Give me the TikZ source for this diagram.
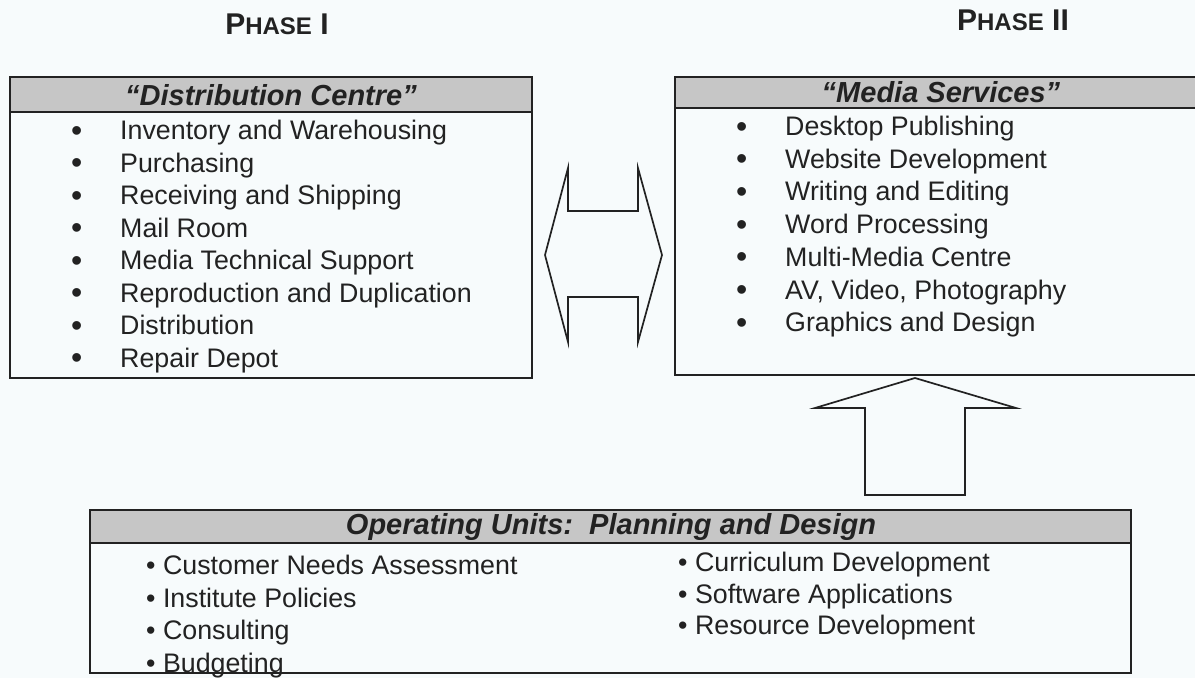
\documentclass[tikz,border=0pt]{standalone}
\usepackage{fontspec}
\setmainfont{Liberation Sans}
\usepackage{tikz}

\definecolor{paper}{RGB}{247,251,252}
\definecolor{ink}{RGB}{34,34,34}
\definecolor{halftone}{RGB}{198,198,198}
\newcommand{\lowcaps}[1]{{\fontsize{24}{26}\selectfont #1}}
\newcommand{\bigdot}{\raisebox{-1.5pt}{\fontsize{32}{32}\selectfont\textbullet}}

\begin{document}
\begin{tikzpicture}[x=1pt,y=-1pt]
        \tikzset{
            phase/.style = {font=\bfseries\fontsize{30}{32}\selectfont, text=ink, inner sep=0pt},
            box/.style = {draw=ink, line width=1.3pt},
            strip/.style = {draw=ink, line width=1.3pt, fill=halftone},
            head/.style = {font=\bfseries\itshape\fontsize{29}{32}\selectfont, text=ink, inner sep=0pt},
            item/.style = {anchor=base west, font=\fontsize{26.8}{30}\selectfont, text=ink, inner sep=0pt},
            blockarrow/.style = {draw=ink, line width=1.7pt, line join=miter}
        }
        \fill[paper] (0,0) rectangle (1195,678);
        \useasboundingbox (0,0) rectangle (1195,678);

        % phase titles
        \node[phase] (ph1) at (277,24) {P\lowcaps{HASE} I};
        \node[phase] (ph2) at (1013,20) {P\lowcaps{HASE} II};

        % distribution centre
        \draw[box] (10,77) rectangle (532,378);
        \draw[strip] (10,77) rectangle (532,112);
        \node[head] (dchead) at (271,95) {“Distribution Centre”};
        \foreach \txt [count=\i] in {Inventory and Warehousing, Purchasing,
                Receiving and Shipping, Mail Room, Media Technical Support,
                Reproduction and Duplication, Distribution, Repair Depot}
            \node[item] (dc\i) at (71,{139.5+32.5*(\i-1)}) {\makebox[49pt][l]{\bigdot}\txt};

        % media services
        \draw[box] (675,77) rectangle (1208,375);
        \draw[strip] (675,77) rectangle (1208,108);
        \node[head] (mshead) at (941,92) {“Media Services”};
        \foreach \txt [count=\i] in {Desktop Publishing, Website Development,
                Writing and Editing, Word Processing, Multi-Media Centre,
                {AV, Video, Photography}, Graphics and Design}
            \node[item] (ms\i) at (736,{135.5+32.7*(\i-1)}) {\makebox[49pt][l]{\bigdot}\txt};

        % operating units
        \draw[box] (90,510) rectangle (1131,673);
        \draw[strip] (90,510) rectangle (1131,543);
        \node[head] (ouhead) at (611,527) {Operating Units:\ \ Planning and Design};
        \foreach \txt [count=\i] in {Customer Needs Assessment, Institute Policies,
                Consulting, Budgeting}
            \node[item] (oul\i) at (146,{574.5+32.7*(\i-1)}) {\textbullet\ \txt};
        \foreach \txt [count=\i] in {Curriculum Development, Software Applications,
                Resource Development}
            \node[item] (our\i) at (678,{571.5+31.5*(\i-1)}) {\textbullet\ \txt};

        % block arrows
        \draw[blockarrow] (545,255) -- (568,168) -- (568,211) -- (638,211) -- (638,168)
            -- (662,255) -- (638,342) -- (638,297) -- (568,297) -- (568,342) -- cycle;
        \draw[blockarrow] (915,378) -- (1016,408) -- (965,408) -- (965,495)
            -- (865,495) -- (865,408) -- (815,408) -- cycle;
\end{tikzpicture}
\end{document}
